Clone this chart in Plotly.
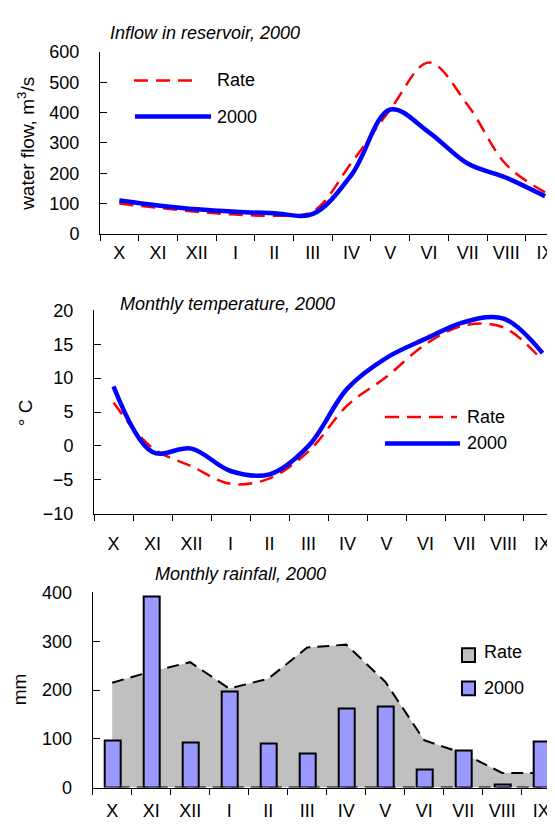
import plotly.graph_objects as go

# months of the hydrological year (October - September)
MONTHS = ["X", "XI", "XII", "I", "II", "III", "IV", "V", "VI", "VII", "VIII", "IX"]

# inflow in reservoir, m3/s
INFLOW_RATE = [100, 86, 73, 64, 60, 74, 235, 410, 565, 425, 228, 137]
INFLOW_2000 = [110, 94, 81, 73, 68, 66, 195, 410, 335, 232, 185, 124]

# monthly temperature, deg C
TEMP_RATE = [6.4, -0.3, -3.0, -5.6, -4.8, -0.8, 6.0, 10.2, 15.0, 17.8, 17.5, 12.6]
TEMP_2000 = [8.8, -0.9, -0.4, -3.7, -4.2, 0.0, 8.5, 13.0, 15.8, 18.3, 18.8, 13.7]

# monthly rainfall, mm
RAIN_RATE = [215, 238, 257, 203, 223, 287, 293, 217, 97, 70, 30, 30]
RAIN_2000 = [97, 391, 92, 197, 90, 69, 163, 167, 38, 77, 7, 95]

W, H = 555, 825
OFF = 8  # the page body adds an 8px margin, positions below are window pixels
FONT = "Liberation Sans, Arial, sans-serif"
RED = "#FF0000"
BLUE = "#0000FF"
GRAY = "#C0C0C0"
BAR = "#9999FF"


def px(x):
    return (x - OFF) / W


def py(y):
    return 1 - (y - OFF) / H


def x_axis(left, step, anchor, standoff):
    return dict(
        type="category", categoryorder="array", categoryarray=MONTHS,
        range=[-0.5, -0.5 + (W + OFF - left) / step],
        domain=[px(left), 1], anchor=anchor,
        tickson="boundaries", ticks="outside", ticklen=6, tickcolor="black",
        showline=True, linecolor="black", linewidth=1,
        showgrid=False, zeroline=False,
        tickfont=dict(size=18, color="black"), ticklabelstandoff=standoff,
    )


def y_axis(top, bottom, rng, dtick, anchor):
    return dict(
        range=rng, dtick=dtick, domain=[py(bottom), py(top)], anchor=anchor,
        ticks="inside", ticklen=7, tickcolor="black",
        showline=True, linecolor="black", linewidth=1,
        showgrid=False, zeroline=False,
        tickfont=dict(size=18, color="black"), ticklabelstandoff=16,
    )


fig = go.Figure()

# inflow
fig.add_trace(go.Scatter(
    x=MONTHS, y=INFLOW_RATE, mode="lines", line_shape="spline",
    line=dict(color=RED, width=2.5, dash="14px,8px"),
    xaxis="x", yaxis="y",
))
fig.add_trace(go.Scatter(
    x=MONTHS, y=INFLOW_2000, mode="lines", line_shape="spline",
    line=dict(color=BLUE, width=4.5),
    xaxis="x", yaxis="y",
))

# temperature
fig.add_trace(go.Scatter(
    x=MONTHS, y=TEMP_RATE, mode="lines", line_shape="spline",
    line=dict(color=RED, width=2.5, dash="14px,8px"),
    xaxis="x2", yaxis="y2",
))
fig.add_trace(go.Scatter(
    x=MONTHS, y=TEMP_2000, mode="lines", line_shape="spline",
    line=dict(color=BLUE, width=4.5),
    xaxis="x2", yaxis="y2",
))

# rainfall: rate as closed area, 2000 as bars on an overlay axis (drawn on top)
fig.add_trace(go.Scatter(
    x=MONTHS + [MONTHS[-1], MONTHS[0]],
    y=RAIN_RATE + [0, 0],
    mode="lines", fill="toself", fillcolor=GRAY,
    line=dict(color="black", width=2, dash="12px,7px"),
    xaxis="x3", yaxis="y3",
))
fig.add_trace(go.Bar(
    x=MONTHS, y=RAIN_2000, width=0.41,
    marker=dict(color=BAR, line=dict(color="black", width=2)),
    xaxis="x3", yaxis="y4",
))

# manual legends
shapes = [
    dict(type="line", xref="paper", yref="paper",
         x0=px(134), x1=px(200), y0=py(72), y1=py(72),
         line=dict(color=RED, width=2.5, dash="14px,8px")),
    dict(type="line", xref="paper", yref="paper",
         x0=px(135), x1=px(211), y0=py(109), y1=py(109),
         line=dict(color=BLUE, width=4.5)),
    dict(type="line", xref="paper", yref="paper",
         x0=px(385), x1=px(457), y0=py(417), y1=py(417),
         line=dict(color=RED, width=2.5, dash="14px,8px")),
    dict(type="line", xref="paper", yref="paper",
         x0=px(385), x1=px(460), y0=py(444), y1=py(444),
         line=dict(color=BLUE, width=4.5)),
    dict(type="rect", xref="paper", yref="paper",
         x0=px(462), x1=px(475), y0=py(668), y1=py(654),
         fillcolor=GRAY, line=dict(color="black", width=2)),
    dict(type="rect", xref="paper", yref="paper",
         x0=px(462), x1=px(475), y0=py(702), y1=py(688),
         fillcolor=BAR, line=dict(color="black", width=2)),
]

notes = [
    # chart titles
    (108, 23, "<i>Inflow in reservoir, 2000</i>", "left", 0, 18),
    (118, 301, "<i>Monthly temperature, 2000</i>", "left", 0, 18),
    (153, 578, "<i>Monthly rainfall, 2000</i>", "left", 0, 18),
    # y axis titles
    (26, 137, "water flow, m<sup>3</sup>/s", "center", -90, 19),
    (25, 413, "° C", "center", -90, 19),
    (19, 696, "mm", "center", -90, 19),
    # legend labels
    (215, 72, "Rate", "left", 0, 18),
    (215, 109, "2000", "left", 0, 18),
    (465, 417, "Rate", "left", 0, 18),
    (465, 444, "2000", "left", 0, 18),
    (482, 658, "Rate", "left", 0, 18),
    (482, 695, "2000", "left", 0, 18),
]
annotations = [
    dict(x=px(x), y=py(y), xref="paper", yref="paper", text=t,
         xanchor=xa, yanchor="middle", textangle=ang, showarrow=False,
         font=dict(size=s, color="black"))
    for x, y, t, xa, ang, s in notes
]

y4 = y_axis(596.7, 796.7, [0, 400], 100, "x3")
y4.update(overlaying="y3", visible=False)

fig.update_layout(
    width=W, height=H,
    margin=dict(l=0, r=0, t=0, b=0),
    paper_bgcolor="white", plot_bgcolor="white",
    font=dict(family=FONT, size=18, color="black"),
    showlegend=False,
    bargap=0,
    xaxis=x_axis(100, 38.7, "y", 2),
    yaxis=y_axis(42.7, 229.3, [0, 600], 100, "x"),
    xaxis2=x_axis(94, 39, "y2", 14),
    yaxis2=y_axis(307.7, 516, [-10, 20], 5, "x2"),
    xaxis3=x_axis(92.7, 39, "y3", 7),
    yaxis3=y_axis(596.7, 796.7, [0, 400], 100, "x3"),
    yaxis4=y4,
    shapes=shapes,
    annotations=annotations,
)

fig.write_html("out.html")
